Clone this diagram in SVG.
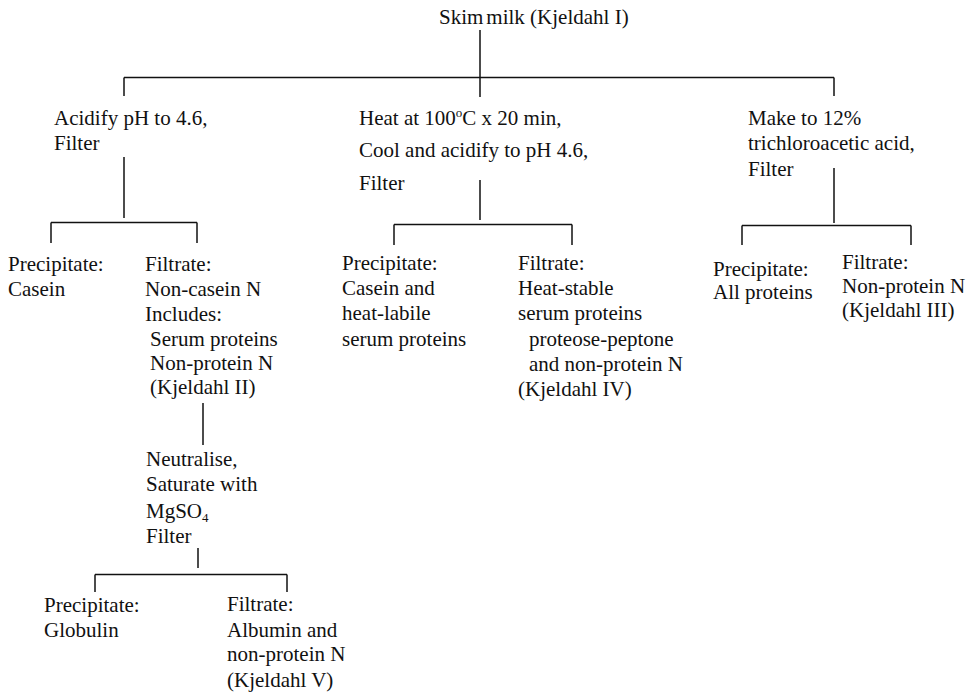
<svg xmlns="http://www.w3.org/2000/svg" width="973" height="697" viewBox="0 0 973 697">
<style>
text{font-family:"Liberation Serif","Times New Roman",serif;font-size:21px;fill:#111}
.c line{stroke:#111;stroke-width:1.5;fill:none}
.sup{font-size:13px}
.sub{font-size:13px}
</style>
<rect width="973" height="697" fill="#fff"/>
<g class="c" id="connectors">
<line x1="480" y1="30" x2="480" y2="97"/>
<line x1="124" y1="77.5" x2="834" y2="77.5"/>
<line x1="124" y1="77.5" x2="124" y2="96"/>
<line x1="834" y1="77.5" x2="834" y2="96"/>
<line x1="124" y1="157" x2="124" y2="218"/>
<line x1="51" y1="222.5" x2="197" y2="222.5"/>
<line x1="51" y1="222.5" x2="51" y2="243"/>
<line x1="197" y1="222.5" x2="197" y2="243"/>
<line x1="480" y1="180" x2="480" y2="220"/>
<line x1="394" y1="224.5" x2="572" y2="224.5"/>
<line x1="394" y1="224.5" x2="394" y2="245"/>
<line x1="572" y1="224.5" x2="572" y2="245"/>
<line x1="834" y1="168" x2="834" y2="223"/>
<line x1="742" y1="225.5" x2="911" y2="225.5"/>
<line x1="742" y1="225.5" x2="742" y2="245"/>
<line x1="911" y1="225.5" x2="911" y2="245"/>
<line x1="203" y1="403" x2="203" y2="445"/>
<line x1="198" y1="548" x2="198" y2="568"/>
<line x1="95" y1="574.5" x2="287" y2="574.5"/>
<line x1="95" y1="574.5" x2="95" y2="592"/>
<line x1="287" y1="574.5" x2="287" y2="592"/>
</g>
<g id="root"><text x="439" y="24">Skim<tspan dx="3">milk (Kjeldahl I)</tspan></text></g>
<g id="acidify">
<text x="54" y="125">Acidify pH to 4.6,</text>
<text x="54" y="150">Filter</text>
</g>
<g id="heat">
<text x="359" y="125">Heat at 100<tspan class="sup" dy="-8">o</tspan><tspan dy="8">C x 20 min,</tspan></text>
<text x="359" y="157">Cool and acidify to pH 4.6,</text>
<text x="359" y="190">Filter</text>
</g>
<g id="tca">
<text x="748" y="125">Make to 12%</text>
<text x="748" y="150">trichloroacetic acid,</text>
<text x="748" y="176">Filter</text>
</g>
<g id="prec-casein">
<text x="8" y="271">Precipitate:</text>
<text x="8" y="296">Casein</text>
</g>
<g id="filt-noncasein">
<text x="145" y="271">Filtrate:</text>
<text x="145" y="296">Non-casein N</text>
<text x="145" y="321">Includes:</text>
<text x="150" y="346">Serum proteins</text>
<text x="150" y="370">Non-protein N</text>
<text x="150" y="394">(Kjeldahl II)</text>
</g>
<g id="prec-heat">
<text x="342" y="270">Precipitate:</text>
<text x="342" y="295">Casein and</text>
<text x="342" y="320">heat-labile</text>
<text x="342" y="346">serum proteins</text>
</g>
<g id="filt-heat">
<text x="518" y="270">Filtrate:</text>
<text x="518" y="295">Heat-stable</text>
<text x="518" y="320">serum proteins</text>
<text x="529" y="346">proteose-peptone</text>
<text x="529" y="371">and non-protein N</text>
<text x="518" y="396">(Kjeldahl IV)</text>
</g>
<g id="prec-all">
<text x="713" y="276">Precipitate:</text>
<text x="713" y="299">All proteins</text>
</g>
<g id="filt-npn">
<text x="842" y="269">Filtrate:</text>
<text x="842" y="293">Non-protein N</text>
<text x="842" y="317">(Kjeldahl III)</text>
</g>
<g id="mgso4">
<text x="146" y="466">Neutralise,</text>
<text x="146" y="491">Saturate with</text>
<text x="146" y="518">MgSO<tspan class="sub" dy="4">4</tspan></text>
<text x="146" y="543">Filter</text>
</g>
<g id="prec-globulin">
<text x="44" y="612">Precipitate:</text>
<text x="44" y="637">Globulin</text>
</g>
<g id="filt-albumin">
<text x="227" y="611">Filtrate:</text>
<text x="227" y="637">Albumin and</text>
<text x="227" y="661">non-protein N</text>
<text x="227" y="687">(Kjeldahl V)</text>
</g>
</svg>
